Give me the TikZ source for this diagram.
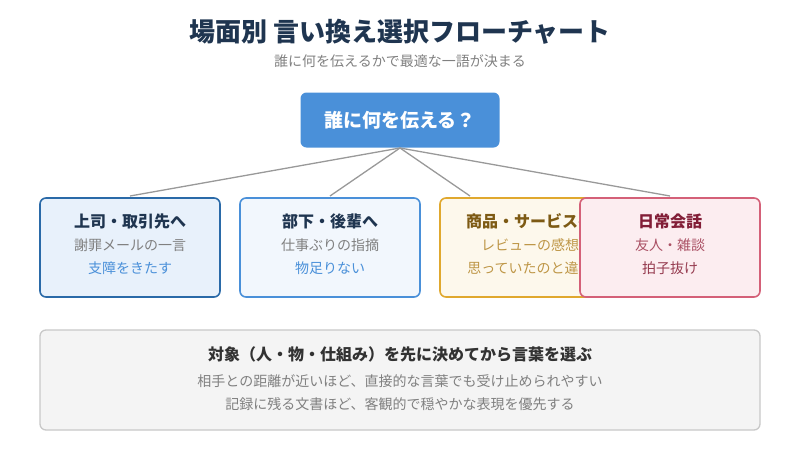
\documentclass[tikz,border=0pt]{standalone}
\usepackage{fontspec}
\setmainfont{Noto Sans CJK JP}
\begin{document}
\begin{tikzpicture}[x=1pt,y=-1pt,
 box/.style={draw,rounded corners=6pt,line width=1.6pt},
 t/.style={font=\fontsize{16}{18}\selectfont\bfseries},
 s/.style={font=\fontsize{14}{16}\selectfont},
 conn/.style={draw=gray!80,line width=1.3pt}]
\definecolor{navy}{HTML}{1F3550}
\useasboundingbox (0,0) rectangle (800,460);
\node[text=navy,font=\fontsize{26}{30}\selectfont\bfseries] (title) at (400,32) {場面別 言い換え選択フローチャート};
\node[text=gray,font=\fontsize{14}{16}\selectfont] (sub) at (400,61) {誰に何を伝えるかで最適な一語が決まる};
\node[fill={rgb,255:red,74;green,144;blue,217},rounded corners=6pt,minimum width=199pt,minimum height=55pt,text=white,font=\fontsize{19}{22}\selectfont\bfseries] (root) at (400,120) {誰に何を伝える？};
\coordinate (r) at (400,148);
\coordinate (a1) at (130,196);\coordinate (a2) at (330,196);\coordinate (a3) at (470,196);\coordinate (a4) at (670,196);
\foreach \a in {a1,a2,a3,a4} \draw[conn] (r) -- (\a);
% box1
\path[box,draw={rgb,255:red,42;green,106;blue,168},fill={rgb,255:red,232;green,241;blue,251}] (40,198) rectangle (220,297);
\node[t,text=navy] (b1t) at (130,221) {上司・取引先へ};
\node[s,text=gray] (b1a) at (130,245) {謝罪メールの一言};
\node[s,text={rgb,255:red,74;green,144;blue,217}] (b1b) at (130,268) {支障をきたす};
% box2
\path[box,draw={rgb,255:red,74;green,144;blue,217},fill={rgb,255:red,242;green,247;blue,253}] (240,198) rectangle (420,297);
\node[t,text=navy] (b2t) at (330,221) {部下・後輩へ};
\node[s,text=gray] (b2a) at (330,245) {仕事ぶりの指摘};
\node[s,text={rgb,255:red,74;green,144;blue,217}] (b2b) at (330,268) {物足りない};
% box3
\path[box,draw={rgb,255:red,224;green,168;blue,46},fill={rgb,255:red,253;green,248;blue,236}] (440,198) rectangle (620,297);
\node[t,text={rgb,255:red,125;green,90;blue,20}] (b3t) at (530,221) {商品・サービスへ};
\node[s,text={rgb,255:red,190;green,150;blue,70}] (b3a) at (530,245) {レビューの感想};
\node[s,text={rgb,255:red,190;green,150;blue,70}] (b3b) at (530,268) {思っていたのと違う};
% box4
\path[box,draw={rgb,255:red,212;green,96;blue,120},fill={rgb,255:red,252;green,237;blue,240}] (580,198) rectangle (760,297);
\node[t,text={rgb,255:red,130;green,30;blue,55}] (b4t) at (670,221) {日常会話};
\node[s,text={rgb,255:red,170;green,80;blue,100}] (b4a) at (670,245) {友人・雑談};
\node[s,text={rgb,255:red,150;green,60;blue,80}] (b4b) at (670,268) {拍子抜け};
% bottom
\path[draw={rgb,255:red,200;green,200;blue,200},line width=1.3pt,rounded corners=6pt,fill={rgb,255:red,244;green,244;blue,244}] (40,330) rectangle (760,430);
\node[t,text={rgb,255:red,50;green,50;blue,50}] (n1) at (400,354) {対象（人・物・仕組み）を先に決めてから言葉を選ぶ};
\node[s,text=gray] (n2) at (400,381) {相手との距離が近いほど、直接的な言葉でも受け止められやすい};
\node[s,text=gray] (n3) at (400,404) {記録に残る文書ほど、客観的で穏やかな表現を優先する};
\end{tikzpicture}
\end{document}
